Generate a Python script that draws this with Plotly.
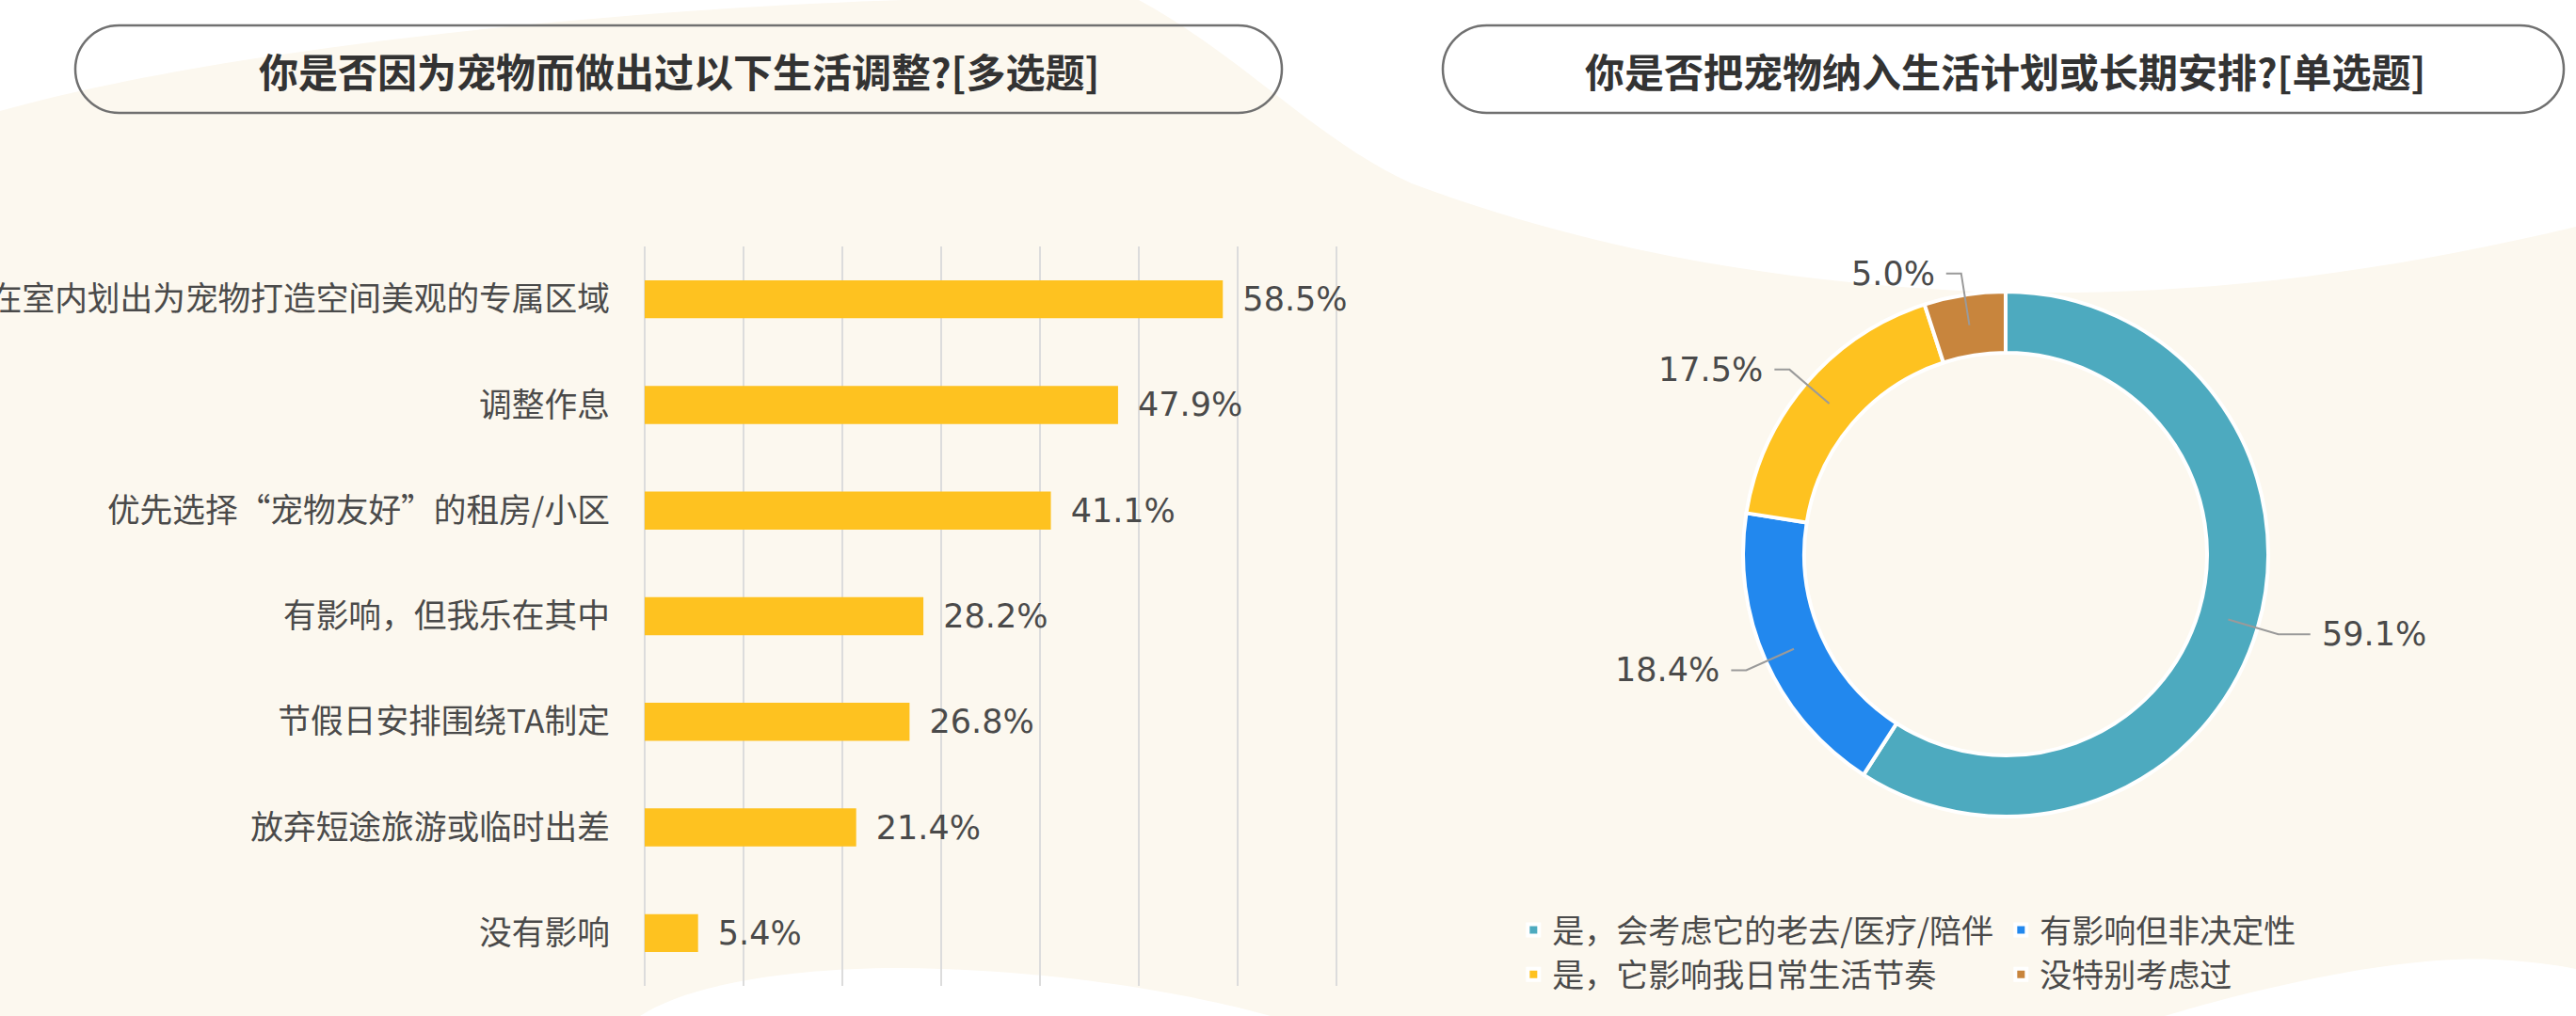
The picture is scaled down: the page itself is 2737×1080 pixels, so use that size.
import math
import plotly.graph_objects as go

W, H = 2737, 1080
MR = 93
GSW = W - MR

bar_labels = [
    "在室内划出为宠物打造空间美观的专属区域",
    "调整作息",
    "优先选择“宠物友好”的租房/小区",
    "有影响，但我乐在其中",
    "节假日安排围绕TA制定",
    "放弃短途旅游或临时出差",
    "没有影响",
]
bar_values = [58.5, 47.9, 41.1, 28.2, 26.8, 21.4, 5.4]

pie_labels = [
    "是，会考虑它的老去/医疗/陪伴",
    "有影响但非决定性",
    "是，它影响我日常生活节奏",
    "没特别考虑过",
]
pie_values = [59.1, 18.4, 17.5, 5.0]
pie_colors = ["#4DAABF", "#2288EE", "#FEC220", "#C8853D"]

title_left = "你是否因为宠物而做出过以下生活调整?[多选题]"
title_right = "你是否把宠物纳入生活计划或长期安排?[单选题]"

CJK = "Noto Sans CJK SC"
NUM = "DejaVu Sans"
TXT = "#4a4a4a"


def px(x):
    return x / GSW


def py(y):
    return 1 - y / H


def path(cmds):
    out = []
    for c, pts in cmds:
        out.append(c + " ".join(f"{px(x):.5f},{py(y):.5f}" for x, y in pts))
    return " ".join(out) + " Z"


def pill(x0, y0, x1, y1):
    r = (y1 - y0) / 2
    k = 0.5523 * r
    return path([
        ("M", [(x0 + r, y0)]),
        ("L", [(x1 - r, y0)]),
        ("C", [(x1 - r + k, y0), (x1, y0 + r - k), (x1, y0 + r)]),
        ("C", [(x1, y0 + r + k), (x1 - r + k, y1), (x1 - r, y1)]),
        ("L", [(x0 + r, y1)]),
        ("C", [(x0 + r - k, y1), (x0, y0 + r + k), (x0, y0 + r)]),
        ("C", [(x0, y0 + r - k), (x0 + r - k, y0), (x0 + r, y0)]),
    ])


fig = go.Figure()

fig.add_trace(go.Bar(
    x=bar_values,
    y=bar_labels,
    orientation="h",
    width=0.36,
    marker=dict(color="#FEC220", line=dict(width=0)),
    text=bar_values,
    texttemplate="\u00a0\u2009%{x:.1f}%",
    textposition="outside",
    cliponaxis=False,
    constraintext="none",
    textfont=dict(family=NUM, size=35, color=TXT),
    showlegend=False,
    hoverinfo="skip",
))

cx, cy, r_out = 2131, 589, 279
hole = 0.767
fig.add_trace(go.Pie(
    labels=pie_labels,
    values=pie_values,
    sort=False,
    direction="clockwise",
    rotation=0,
    hole=hole,
    textinfo="none",
    marker=dict(colors=pie_colors, line=dict(color="white", width=4)),
    domain=dict(x=[px(cx - r_out), px(cx + r_out)], y=[py(cy + r_out), py(cy - r_out)]),
    hoverinfo="skip",
))

shapes = []
# background waves
bg = "white"
shapes.append(dict(type="path", xref="paper", yref="paper", layer="below", fillcolor=bg,
                   line=dict(width=0),
                   path=path([("M", [(0, 0)]), ("L", [(960, 0)]),
                              ("C", [(700, 8), (260, 45), (0, 118)])])))
shapes.append(dict(type="path", xref="paper", yref="paper", layer="below", fillcolor=bg,
                   line=dict(width=0),
                   path=path([("M", [(1210, 0)]),
                              ("C", [(1320, 60), (1400, 150), (1500, 195)]),
                              ("C", [(1700, 270), (1900, 300), (2100, 310)]),
                              ("C", [(2350, 318), (2550, 285), (W, 241)]),
                              ("L", [(W, 0)])])))
shapes.append(dict(type="path", xref="paper", yref="paper", layer="below", fillcolor=bg,
                   line=dict(width=0),
                   path=path([("M", [(680, H)]),
                              ("C", [(740, 1040), (880, 1025), (1000, 1030)]),
                              ("C", [(1150, 1035), (1280, 1060), (1350, H)])])))
shapes.append(dict(type="path", xref="paper", yref="paper", layer="below", fillcolor=bg,
                   line=dict(width=0),
                   path=path([("M", [(2300, H)]),
                              ("C", [(2400, 1050), (2550, 1015), (2650, 1020)]),
                              ("C", [(2700, 1022), (W, 1030), (W, 1030)]),
                              ("L", [(W, H)])])))

# title pills
for x0, x1 in [(80, 1362), (1533, 2724)]:
    shapes.append(dict(type="path", xref="paper", yref="paper", layer="below",
                       fillcolor="rgba(0,0,0,0)", line=dict(color="#707070", width=2.5),
                       path=pill(x0, 27, x1, 120)))

annotations = [
    dict(text=f"<b>{title_left}</b>", x=px(721), y=py(74), xref="paper", yref="paper",
         xanchor="center", yanchor="middle", showarrow=False,
         font=dict(family=CJK, size=42, color="#333333")),
    dict(text=f"<b>{title_right}</b>", x=px(2130), y=py(74), xref="paper", yref="paper",
         xanchor="center", yanchor="middle", showarrow=False,
         font=dict(family=CJK, size=42, color="#333333")),
]

# leader lines and labels for the donut
r_mid = r_out * (1 + hole) / 2
total = sum(pie_values)
cum = 0
for v in pie_values:
    a = (cum + v / 2) / total * 2 * math.pi
    cum += v
    s, c = math.sin(a), math.cos(a)
    sx, sy = cx + r_mid * s, cy - r_mid * c
    ex, ey = cx + 302 * s, cy - 302 * c
    side = 1 if s >= 0 else -1
    hx = ex + side * (34 if side > 0 else 16)
    shapes.append(dict(type="path", xref="paper", yref="paper", layer="above",
                       line=dict(color="#9a9a9a", width=2),
                       path=f"M{px(sx)},{py(sy)} L{px(ex)},{py(ey)} L{px(hx)},{py(ey)}"))
    annotations.append(dict(text=f"{v:.1f}%", x=px(hx + side * 10), y=py(ey),
                            xref="paper", yref="paper", showarrow=False,
                            xanchor="left" if side > 0 else "right", yanchor="middle",
                            font=dict(family=NUM, size=35, color=TXT)))

fig.update_layout(
    width=W,
    height=H,
    margin=dict(l=0, r=MR, t=0, b=0, autoexpand=False),
    paper_bgcolor="#FCF8EF",
    plot_bgcolor="rgba(0,0,0,0)",
    xaxis=dict(
        domain=[px(685 - 0.3 * 10.5), px(685 + 70.3 * 10.5)],
        range=[-0.3, 70.3],
        tickvals=[0, 10, 20, 30, 40, 50, 60, 70],
        showgrid=True,
        gridcolor="#DCDCDC",
        gridwidth=2,
        zeroline=False,
        showticklabels=False,
        showline=False,
        automargin=False,
        fixedrange=True,
    ),
    yaxis=dict(
        domain=[py(1048), py(262)],
        autorange="reversed",
        showgrid=False,
        showline=False,
        ticks="",
        ticklabelstandoff=33,
        tickfont=dict(family=CJK, size=34.7, color=TXT),
        automargin=False,
        fixedrange=True,
    ),
    legend=dict(
        orientation="h",
        x=1.0005,
        xanchor="right",
        y=py(960),
        yanchor="top",
        entrywidth=473,
        font=dict(family=CJK, size=34, color=TXT),
        bgcolor="rgba(0,0,0,0)",
        itemclick=False,
        itemdoubleclick=False,
    ),
    shapes=shapes,
    annotations=annotations,
    font=dict(family=CJK),
)

fig.write_html("out.html", config={"displayModeBar": False},
               post_script="document.body.style.margin='0px';")
